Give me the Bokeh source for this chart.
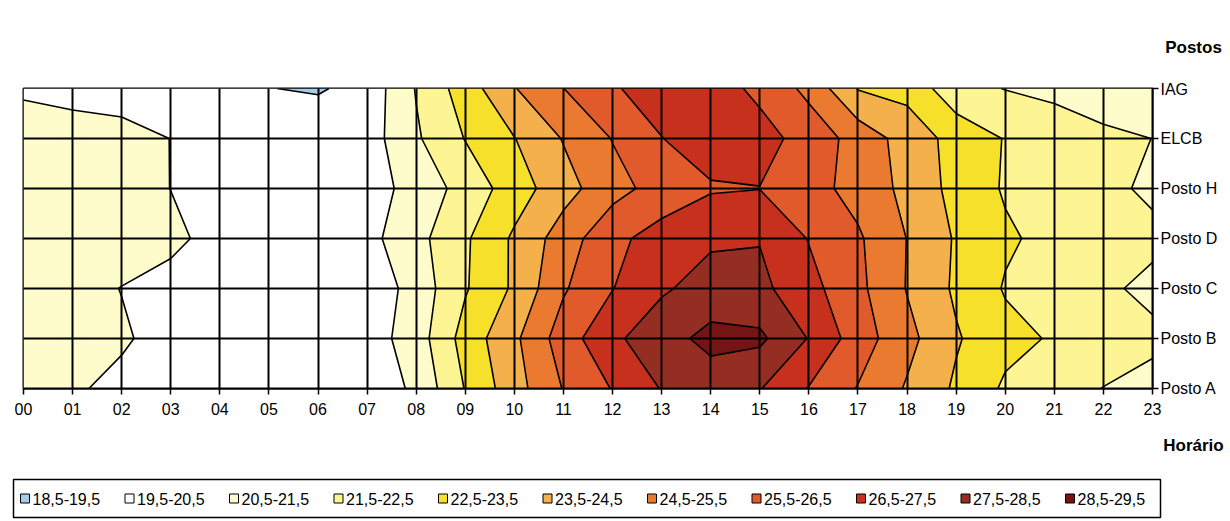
import numpy as np
from bokeh.plotting import figure
from bokeh.layouts import column
from bokeh.models import FixedTicker, Label, Range1d
from bokeh.core.properties import value
from bokeh.embed import file_html
from bokeh.resources import INLINE

# Hourly air temperature (°C) at each station
hours = list(range(24))
hour_labels = [f"{h:02d}" for h in hours]
stations = ["Posto A", "Posto B", "Posto C", "Posto D", "Posto H", "ELCB", "IAG"]

posto_a = [20.9, 20.6, 20.3, 20.1, 20.0, 19.9, 19.9, 19.8, 20.7, 22.55, 24.1, 25.55,
           26.55, 27.55, 27.95, 27.55, 26.45, 25.45, 24.4, 23.35, 22.35, 21.9, 21.48, 21.2]
posto_b = [21.0, 20.9, 20.6, 20.2, 20.0, 19.9, 19.9, 20.0, 21.0, 22.9, 24.3, 26.0,
           27.3, 28.1, 28.8, 28.7, 27.45, 26.0, 24.8, 23.6, 22.8, 22.4, 22.0, 21.7]
posto_c = [21.0, 20.8, 20.48, 20.2, 20.0, 19.9, 19.9, 19.8, 20.9, 22.41, 23.66, 25.39,
           26.47, 27.37, 27.9, 27.75, 26.83, 25.75, 24.45, 23.34, 22.42, 22.04, 21.66, 21.28]
posto_d = [21.1, 21.0, 20.9, 20.7, 20.2, 20.0, 20.0, 20.2, 21.18, 22.36, 23.66, 24.99,
           26.25, 26.9, 27.35, 27.45, 26.45, 25.64, 24.48, 23.4, 22.65, 22.2, 21.95, 21.7]
posto_h = [21.1, 21.0, 20.9, 20.49, 20.2, 20.0, 20.0, 20.02, 20.89, 21.86, 23.0, 24.12,
           25.14, 25.9, 26.4, 26.48, 25.87, 25.15, 24.24, 23.18, 22.4, 22.05, 21.7, 21.35]
elcb = [21.0, 20.9, 20.8, 20.49, 20.1, 20.0, 20.2, 20.03, 21.37, 22.54, 23.47, 24.56,
        25.54, 26.48, 27.0, 26.9, 26.08, 25.13, 24.08, 23.15, 22.45, 22.13, 21.82, 21.49]
iag = [20.35, 20.2, 20.1, 20.0, 19.9, 19.52, 19.4, 19.85, 21.56, 22.99, 24.45, 25.49,
       26.41, 26.9, 27.0, 26.25, 25.25, 23.45, 23.2, 21.85, 21.47, 21.23, 20.7, 20.6]

levels = [18.5, 19.5, 20.5, 21.5, 22.5, 23.5, 24.5, 25.5, 26.5, 27.5, 28.5, 29.5]
band_labels = ["18,5-19,5", "19,5-20,5", "20,5-21,5", "21,5-22,5", "22,5-23,5",
               "23,5-24,5", "24,5-25,5", "25,5-26,5", "26,5-27,5", "27,5-28,5", "28,5-29,5"]
band_colors = ["#A3CDEB", "#FFFFFF", "#FEFCCB", "#FDF594", "#F7E02A", "#F4B04A",
               "#EA7A30", "#E05A2C", "#C8301E", "#952E22", "#751414"]

FONT = "Liberation Sans"
W = 1230

# --- title strip above the chart (pixel-aligned canvas) ---
top = figure(width=W, height=80, x_range=Range1d(0, W), y_range=Range1d(80, 0),
             x_axis_location=None, y_axis_location=None, min_border=0,
             outline_line_color=None, output_backend="svg", toolbar_location=None,
             frame_align=False)
top.grid.visible = False
top.add_layout(Label(x=1193, y=47, text="Postos", text_font=FONT, text_font_size="17px",
                     text_font_style="bold", text_align="center", text_baseline="middle",
                     text_color="black"))

# --- contour chart ---
p = figure(width=W, height=350, x_range=Range1d(0, 23), y_range=Range1d(0, 6),
           y_axis_location="right", min_border_left=23, min_border_right=78,
           min_border_top=8, min_border_bottom=42,
           output_backend="svg", toolbar_location=None, frame_align=False)

z = np.array([posto_a, posto_b, posto_c, posto_d, posto_h, elcb, iag])
p.contour(np.array(hours, dtype=float), np.arange(len(stations), dtype=float), z, levels,
          fill_color=band_colors, line_color="black", line_width=1.6)

p.xaxis.ticker = FixedTicker(ticks=hours)
p.yaxis.ticker = FixedTicker(ticks=list(range(len(stations))))
p.xgrid.ticker = FixedTicker(ticks=hours)
p.ygrid.ticker = FixedTicker(ticks=list(range(len(stations))))
p.xaxis.major_label_overrides = {h: lab for h, lab in zip(hours, hour_labels)}
p.yaxis.major_label_overrides = {i: s for i, s in enumerate(stations)}

p.grid.grid_line_color = "black"
p.grid.grid_line_width = 2
p.grid.level = "overlay"

for ax in (p.xaxis, p.yaxis):
    ax.axis_line_width = 2
    ax.axis_line_color = "black"
    ax.major_tick_line_width = 1.5
    ax.major_tick_line_color = "black"
    ax.major_tick_in = 0
    ax.major_tick_out = 6
    ax.minor_tick_line_color = None
    ax.major_label_text_font = FONT
    ax.major_label_text_font_size = "16px"
    ax.major_label_text_color = "black"
p.xaxis.major_label_standoff = 8
p.yaxis.major_label_standoff = 2

p.outline_line_color = "black"
p.outline_line_width = 2
p.background_fill_color = "white"
p.border_fill_color = "white"

# --- axis caption and band key below the chart (pixel-aligned canvas) ---
bot = figure(width=W, height=91, x_range=Range1d(0, W), y_range=Range1d(91, 0),
             x_axis_location=None, y_axis_location=None, min_border=0,
             outline_line_color=None, output_backend="svg", toolbar_location=None,
             frame_align=False)
bot.grid.visible = False
bot.add_layout(Label(x=1193, y=15, text="Horário", text_font=FONT, text_font_size="17px",
                     text_font_style="bold", text_align="center", text_baseline="middle",
                     text_color="black"))

# key frame
key_left, key_right, key_top, key_bottom = 13, 1160, 49, 87
bot.quad(left=[key_left], right=[key_right], top=[key_top], bottom=[key_bottom],
         fill_color="white", line_color="black", line_width=1.5)

# key entries: swatch + range text, evenly pitched
pitch = 104.5
first = 20
row_y = (key_top + key_bottom) / 2
swatch_x = [first + 4.5 + i * pitch for i in range(len(band_labels))]
text_x = [first + 12 + i * pitch for i in range(len(band_labels))]
bot.rect(x=swatch_x, y=[row_y] * len(band_labels), width=9, height=9,
         fill_color=band_colors, line_color="black", line_width=1)
bot.text(x=text_x, y=[row_y] * len(band_labels), text=band_labels,
         text_font=value(FONT), text_font_size="16px", text_color="black",
         text_align="left", text_baseline="middle")

layout = column(top, p, bot, spacing=0)

open("out.html", "w", encoding="utf-8").write(file_html(layout, INLINE))
